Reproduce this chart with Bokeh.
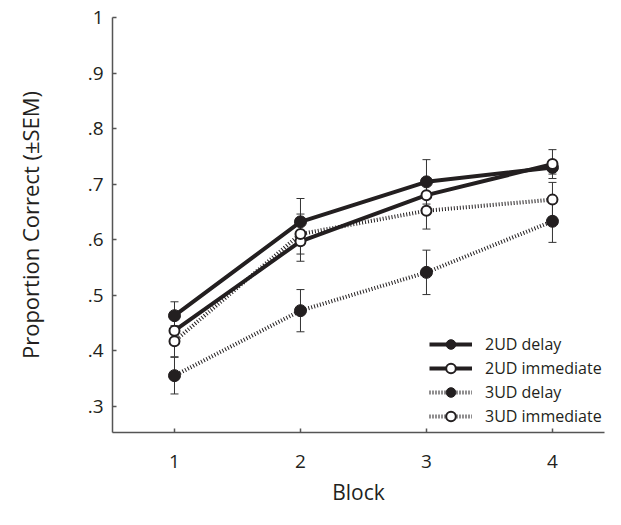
from bokeh.plotting import figure
from bokeh.models import (ColumnDataSource, FixedTicker, Legend, LegendItem,
                          Whisker, TeeHead)
from bokeh.embed import file_html
from bokeh.resources import INLINE

# ---------------- data ----------------
blocks = [1, 2, 3, 4]
x_tick_labels = ["1", "2", "3", "4"]
y_ticks = [0.3, 0.4, 0.5, 0.6, 0.7, 0.8, 0.9, 1.0]
y_tick_labels = [".3", ".4", ".5", ".6", ".7", ".8", ".9", "1"]

series_names = ["2UD delay", "2UD immediate", "3UD delay", "3UD immediate"]
ud2_delay = [0.463, 0.632, 0.704, 0.730]
ud2_delay_sem = [0.025, 0.042, 0.040, 0.012]
ud2_imm = [0.436, 0.597, 0.680, 0.736]
ud2_imm_sem = [0.025, 0.036, 0.030, 0.026]
ud3_delay = [0.355, 0.472, 0.541, 0.633]
ud3_delay_sem = [0.033, 0.038, 0.040, 0.038]
ud3_imm = [0.417, 0.610, 0.652, 0.672]
ud3_imm_sem = [0.028, 0.036, 0.033, 0.031]

x_title = "Block"
y_title = "Proportion Correct (\u00b1SEM)"

INK = "#231f20"
AXIS = "#555555"
FONT = "Open Sans"

p = figure(width=605, height=509,
           x_range=(0.508, 4.413), y_range=(0.2526, 1.0),
           min_border_left=112, min_border_top=17, min_border_right=1,
           min_border_bottom=77,
           output_backend="svg", toolbar_location=None)
p.xgrid.visible = False
p.ygrid.visible = False
p.outline_line_color = None
p.background_fill_color = "white"
p.border_fill_color = "white"

for ax in (p.xaxis[0], p.yaxis[0]):
    ax.axis_line_color = AXIS
    ax.axis_line_width = 1.5
    ax.major_tick_line_color = AXIS
    ax.major_tick_line_width = 1.5
    ax.major_tick_in = 4
    ax.major_tick_out = 0
    ax.minor_tick_line_color = None
    ax.major_label_text_font = FONT
    ax.major_label_text_color = INK
    ax.major_label_text_font_size = "19px"
    ax.axis_label_text_font = FONT
    ax.axis_label_text_font_style = "normal"
    ax.axis_label_text_color = INK

p.xaxis.ticker = FixedTicker(ticks=blocks)
p.xaxis.major_label_overrides = {b: l for b, l in zip(blocks, x_tick_labels)}
p.xaxis.major_label_standoff = 22
p.xaxis.axis_label = x_title
p.xaxis.axis_label_text_font_size = "21px"
p.xaxis.axis_label_standoff = 7

p.yaxis.ticker = FixedTicker(ticks=y_ticks)
p.yaxis.major_label_overrides = {t: l for t, l in zip(y_ticks, y_tick_labels)}
p.yaxis.major_label_standoff = 9
p.yaxis.axis_label = y_title
p.yaxis.axis_label_text_font_size = "22px"
p.yaxis.axis_label_standoff = 40

styles = [
    dict(vals=ud2_delay, sem=ud2_delay_sem, dash="solid", fill=INK),
    dict(vals=ud2_imm, sem=ud2_imm_sem, dash="solid", fill="white"),
    dict(vals=ud3_delay, sem=ud3_delay_sem, dash="1 2", fill=INK),
    dict(vals=ud3_imm, sem=ud3_imm_sem, dash="1 2", fill="white"),
]

# error bars
for st in styles:
    src = ColumnDataSource(dict(x=blocks,
                                upper=[v + e for v, e in zip(st["vals"], st["sem"])],
                                lower=[v - e for v, e in zip(st["vals"], st["sem"])]))
    w = Whisker(source=src, base="x", upper="upper", lower="lower",
                line_color="#333333", line_width=1,
                upper_head=TeeHead(size=8, line_color="#333333", line_width=1),
                lower_head=TeeHead(size=8, line_color="#333333", line_width=1))
    p.add_layout(w)

line_rs = []
for name, st in zip(series_names, styles):
    src = ColumnDataSource(dict(x=blocks, y=st["vals"]))
    lr = p.line("x", "y", source=src, line_color=INK, line_width=4,
                line_dash=st["dash"])
    line_rs.append((name, st, src, lr))

items = []
for name, st, src, lr in line_rs:
    if st["fill"] == "white":
        sr = p.scatter("x", "y", source=src, size=10, fill_color="white",
                       line_color=INK, line_width=2)
    else:
        sr = p.scatter("x", "y", source=src, size=12, fill_color=INK,
                       line_color=INK, line_width=1)
    items.append(LegendItem(label=name, renderers=[lr, sr]))

legend = Legend(items=items, location=(317, 4),
                glyph_width=43, glyph_height=24, label_height=24,
                label_standoff=13, spacing=0, padding=0, margin=0,
                border_line_color=None, background_fill_alpha=0,
                label_text_font=FONT, label_text_font_size="16px",
                label_text_color=INK)
p.add_layout(legend, "center")

open("out.html", "w").write(file_html(p, INLINE))
